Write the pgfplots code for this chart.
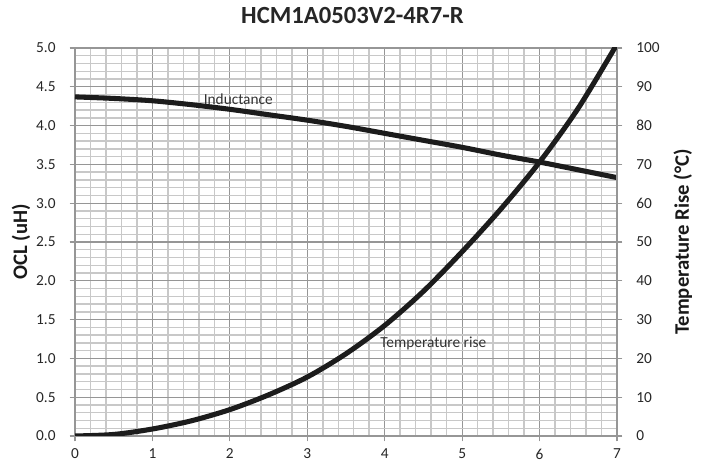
\documentclass[border=0pt]{standalone}
\usepackage{pgfplots}
\pgfplotsset{compat=1.18}
\usepackage{pgfplotstable}
\usepackage{fontspec}
\setmainfont{Carlito}

\definecolor{minorgrid}{RGB}{200,200,200}
\definecolor{majorgrid}{RGB}{150,150,150}
\definecolor{curve}{RGB}{28,28,28}

% inductance (uH) vs current (A)
\pgfplotstableread{
x L
0   4.37
0.5 4.35
1   4.32
1.5 4.27
2   4.21
2.5 4.14
3   4.07
3.5 3.99
4   3.90
4.5 3.81
5   3.72
5.5 3.62
6   3.53
6.5 3.43
7   3.33
}\inductance

% temperature rise (C) vs current (A)
\pgfplotstableread{
x T
0   0
0.5 0.4
1   1.8
1.5 3.9
2   6.8
2.5 10.6
3   15.2
3.5 21.2
4   28.5
4.5 37.3
5   47.5
5.5 58.5
6   70.6
6.5 84.5
7   101
}\temprise

\begin{document}
\begin{tikzpicture}[x=0.75pt,y=0.75pt]
\useasboundingbox (-75,-30) rectangle (632,436);
\pgfplotsset{
  every axis/.append style={
    scale only axis, width=406.5pt, height=291pt,
    at={(0,0)}, anchor=south west,
    xmin=0, xmax=7,
    /pgf/number format/assume math mode=true,
    ticklabel style={font=\fontsize{11.5}{13}\selectfont, text=black!85},
    tick align=outside, major tick length=4pt,
    tick style={majorgrid, line width=0.8pt},
    axis line style={majorgrid, line width=0.8pt},
  }
}
\begin{axis}[
  ymin=0, ymax=5,
  xtick={0,1,...,7}, ytick={0,0.5,...,5},
  xtick pos=bottom, ytick pos=left,
  minor x tick num=4, minor y tick num=4,
  minor tick length=0pt,
  grid=both,
  major grid style={majorgrid, line width=0.8pt},
  minor grid style={minorgrid, line width=1.1pt},
  yticklabel style={xshift=-7pt, /pgf/number format/.cd, fixed, fixed zerofill, precision=1},
  xticklabel style={yshift=-2pt},
  ylabel={\bfseries OCL (uH)},
  ylabel style={at={(axis description cs:-0.0995,0.5)}, anchor=center, font=\fontsize{15.5}{17}\selectfont, text=black!90},
  title={\bfseries HCM1A0503V2-4R7-R},
  every axis title/.style={at={(axis description cs:0.512,1.085)}, anchor=center, font=\fontsize{18.5}{20}\selectfont, text=black!85},
]
\addplot[curve, line width=3.8pt, smooth, line join=round] table[x=x, y=L] {\inductance};
\node[anchor=west, font=\fontsize{11.5}{13}\selectfont, text=black!80, inner sep=0pt] at (axis cs:1.66,4.34) {Inductance};
\node[anchor=west, font=\fontsize{11.5}{13}\selectfont, text=black!80, inner sep=0pt] at (axis cs:3.94,1.19) {Temperature rise};
\end{axis}
\begin{axis}[
  ymin=0, ymax=100,
  ytick={0,10,...,100},
  axis y line*=right, axis x line=none,
  yticklabel style={xshift=7pt},
  ylabel={\bfseries Temperature Rise (°C)},
  ylabel style={at={(axis description cs:1.1215,0.5)}, anchor=center, rotate=0, font=\fontsize{15.5}{17}\selectfont, text=black!90},
]
\addplot[curve, line width=3.8pt, smooth, line join=round] table[x=x, y=T] {\temprise};
\end{axis}
\end{tikzpicture}
\end{document}
